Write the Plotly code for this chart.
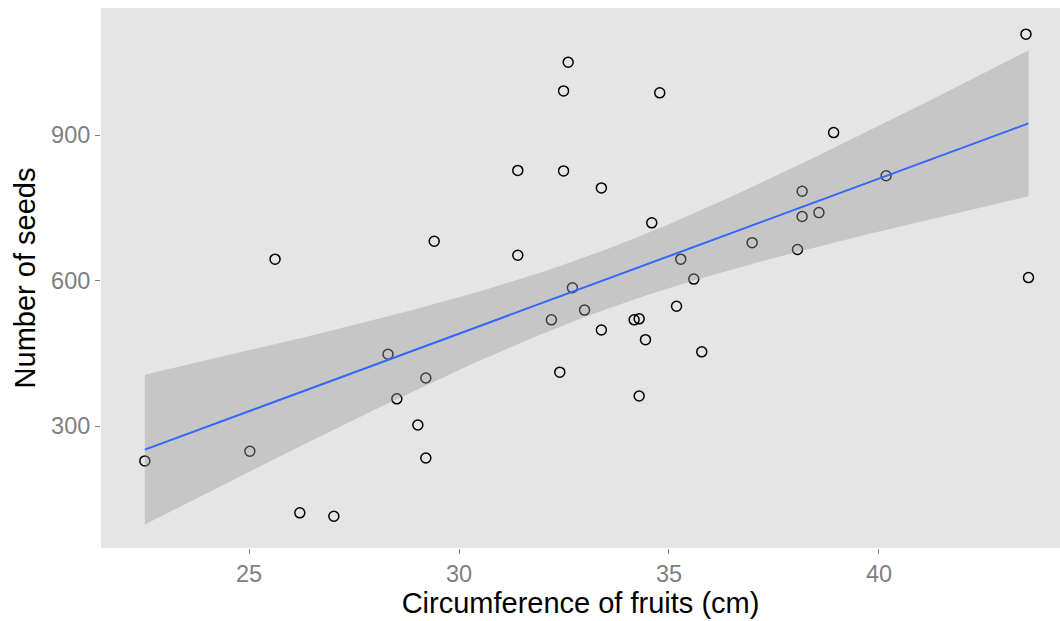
import numpy as np
import plotly.graph_objects as go

circumference = [22.52, 25.02, 25.62, 26.21, 27.02, 28.31, 29.21, 28.52, 29.02, 29.21,
                 29.41, 32.60, 32.49, 34.78, 31.40, 32.49, 33.39, 34.59, 31.40, 38.17,
                 38.17, 38.06, 36.98, 35.28, 35.59, 32.70, 43.50, 38.92, 40.17, 38.57,
                 43.56, 32.99, 32.20, 33.39, 34.17, 34.29, 35.18, 34.44, 35.78, 32.40,
                 34.29]
seeds = [228, 248, 644, 121, 114, 448, 399, 356, 302, 234,
         681, 1050, 991, 987, 827, 826, 791, 719, 652, 784,
         732, 664, 678, 644, 603, 585, 1108, 905, 816, 740,
         606, 539, 519, 498, 519, 521, 547, 478, 453, 411,
         362]
x_ticks = [25, 30, 35, 40]
y_ticks = [300, 600, 900]
T_CRIT = 2.0227  # t(0.975, df = n - 2 = 39)

x = np.array(circumference, dtype=float)
y = np.array(seeds, dtype=float)
n = len(x)
slope, intercept = np.polyfit(x, y, 1)
resid = y - (intercept + slope * x)
s = np.sqrt(np.sum(resid ** 2) / (n - 2))
xg = np.linspace(x.min(), x.max(), 80)
fit = intercept + slope * xg
se = s * np.sqrt(1 / n + (xg - x.mean()) ** 2 / np.sum((x - x.mean()) ** 2))
upper = fit + T_CRIT * se
lower = fit - T_CRIT * se

fig = go.Figure()
fig.add_trace(go.Scatter(
    x=circumference, y=seeds, mode="markers",
    marker=dict(symbol="circle-open", size=10, color="black", line=dict(width=1.5)),
    hoverinfo="skip", showlegend=False))
fig.add_trace(go.Scatter(
    x=np.concatenate([xg, xg[::-1]]), y=np.concatenate([upper, lower[::-1]]),
    fill="toself", fillcolor="rgba(153,153,153,0.4)", line=dict(width=0),
    mode="lines", hoverinfo="skip", showlegend=False))
fig.add_trace(go.Scatter(
    x=xg, y=fit, mode="lines", line=dict(color="#3366FF", width=2),
    hoverinfo="skip", showlegend=False))

FONT = "Liberation Sans, Arial, sans-serif"
axis_common = dict(showgrid=False, zeroline=False, showline=False,
                   ticks="outside", ticklen=5, tickwidth=1, tickcolor="#7F7F7F",
                   tickfont=dict(family=FONT, size=23.5, color="#7F7F7F"))
fig.update_layout(
    width=1060, height=621,
    margin=dict(l=101, r=0, t=8, b=73),
    paper_bgcolor="white", plot_bgcolor="#E5E5E5",
    font=dict(family=FONT, color="black"),
    xaxis=dict(range=[21.476, 44.31], tickvals=x_ticks,
               title=dict(text="Circumference of fruits (cm)", font=dict(size=29), standoff=2),
               **axis_common),
    yaxis=dict(range=[48.5, 1161.9], tickvals=y_ticks,
               title=dict(text="Number of seeds", font=dict(size=29), standoff=6),
               **axis_common),
)
fig.write_html("out.html")
